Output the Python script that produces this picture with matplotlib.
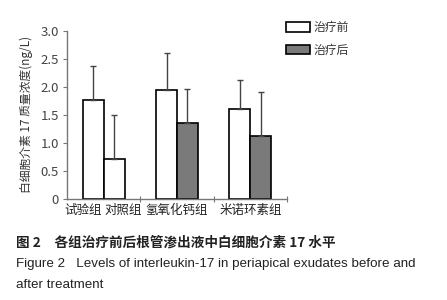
import matplotlib
matplotlib.use('Agg')
import matplotlib.pyplot as plt
import numpy as np

plt.rcParams['font.family'] = ['Noto Sans CJK SC', 'DejaVu Sans']

# 数据
groups = ['试验组', '对照组', '氢氧化钙组', '米诺环素组']
before = [1.77, 1.94, 1.61]        # 治疗前 (试验组, 氢氧化钙组, 米诺环素组)
before_err = [0.61, 0.67, 0.51]
control = 0.72                      # 对照组
control_err = 0.77
after = [1.36, 1.13]                # 治疗后 (氢氧化钙组, 米诺环素组)
after_err = [0.61, 0.77]

fig = plt.figure(figsize=(4.47, 3.0), dpi=100)
ax = fig.add_axes([0.150, 0.337, 0.492, 0.560])

w = 0.285
centers = np.array([0.5, 1.5, 2.5])
ekw = dict(ecolor='#444444', elinewidth=1.0, capsize=2, capthick=1.0)

# 白色柱 (治疗前)
ax.bar(centers - w / 2, before, w, color='white', edgecolor='black', linewidth=1.2,
       yerr=[np.zeros(3), before_err], error_kw=ekw, label='治疗前', zorder=2)
# 对照组
ax.bar(0.5 + w / 2, control, w, color='white', edgecolor='black', linewidth=1.2,
       yerr=[[0], [control_err]], error_kw=ekw, zorder=2)
# 灰色柱 (治疗后)
ax.bar(centers[1:] + w / 2, after, w, color='#7a7a7a', edgecolor='black', linewidth=1.2,
       yerr=[np.zeros(2), after_err], error_kw=ekw, label='治疗后', zorder=2)

ax.set_xlim(0, 3)
ax.set_ylim(0, 3.0)
ax.set_yticks([0, 0.5, 1.0, 1.5, 2.0, 2.5, 3.0])
ax.set_yticklabels(['0', '0.5', '1.0', '1.5', '2.0', '2.5', '3.0'])
ax.set_xticks([1, 2, 3])
ax.set_xticklabels([])
ax.tick_params(axis='x', direction='inout', length=4, color='#777777')
ax.tick_params(axis='y', direction='out', length=3, color='#777777',
               labelsize=9.5, labelcolor='#444444', pad=3)
for s in ['top', 'right']:
    ax.spines[s].set_visible(False)
for s in ['left', 'bottom']:
    ax.spines[s].set_color('#777777')
    ax.spines[s].set_linewidth(1.0)

label_x = [0.22, 0.77, 1.5, 2.5]
for x, g in zip(label_x, groups):
    ax.text(x, -0.09, g, ha='center', va='top', fontsize=9, color='#222222')

ax.set_ylabel('白细胞介素 17 质量浓度(ng/L)', fontsize=8.5, color='#333333', labelpad=5)

fig.legend(*ax.get_legend_handles_labels(), loc='upper left',
           bbox_to_anchor=(0.615, 0.965), frameon=False, fontsize=8.5,
           handlelength=2.1, handleheight=0.85, labelspacing=0.8, handletextpad=0.3,
           labelcolor='#333333')

fig.text(0.036, 0.19, '图 2　各组治疗前后根管渗出液中白细胞介素 17 水平', fontsize=9.8,
         color='#222222', va='center', fontweight='bold')
fig.text(0.036, 0.12, 'Figure 2   Levels of interleukin-17 in periapical exudates before and',
         fontsize=9.6, color='#222222', va='center', family='Liberation Sans')
fig.text(0.036, 0.05, 'after treatment', fontsize=9.6, color='#222222', va='center',
         family='Liberation Sans')

fig.savefig('out.png', dpi=100, facecolor='white')
